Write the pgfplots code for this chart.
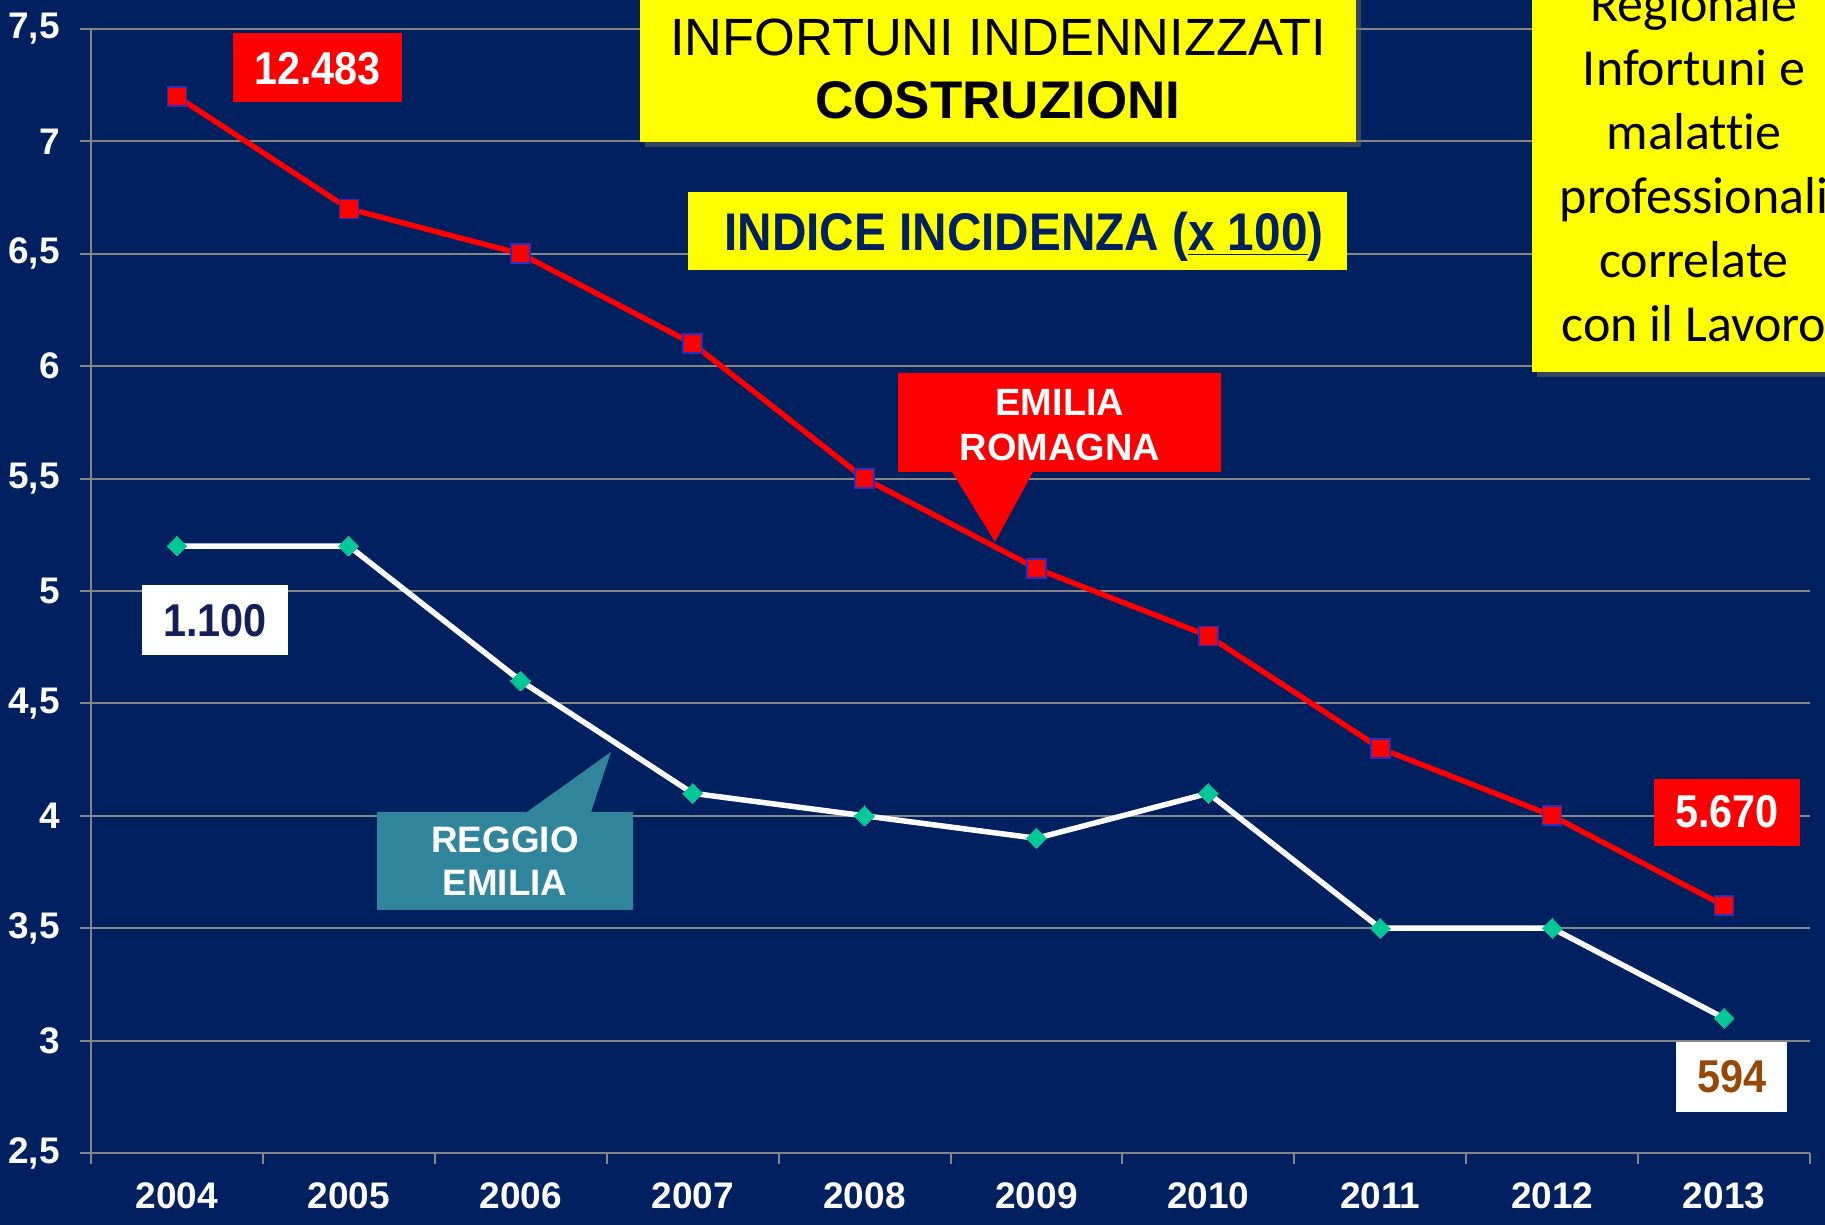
\documentclass[border=0pt]{standalone}
\usepackage{fontspec}
\setmainfont{Liberation Sans}
\newfontfamily\calibri[Ligatures=NoCommon]{Carlito}
\usepackage{graphicx}
\usepackage{pgfplots}
\usepackage{pgfplotstable}
\pgfplotsset{compat=1.18}
\definecolor{bg}{RGB}{0,32,96}
\definecolor{gridc}{RGB}{134,134,134}
\definecolor{mkedge}{RGB}{45,45,190}
\definecolor{dia}{RGB}{0,200,150}
\definecolor{teal2}{RGB}{49,133,155}
\definecolor{brown2}{RGB}{152,72,6}
\definecolor{navy2}{RGB}{20,30,90}
\definecolor{yel}{RGB}{255,255,0}
\definecolor{shad}{RGB}{110,110,80}
\newcommand{\nar}[1]{\scalebox{0.9}[1]{#1}}

\pgfplotstableread{
x er re
0 7.2 5.2
1 6.7 5.2
2 6.5 4.6
3 6.1 4.1
4 5.5 4.0
5 5.1 3.9
6 4.8 4.1
7 4.3 3.5
8 4.0 3.5
9 3.6 3.1
}\datatable

\begin{document}
\begin{tikzpicture}
\path[use as bounding box, clip] (0,0) rectangle (912.5pt,612.5pt);
\fill[bg] (0,0) rectangle (912.5pt,612.5pt);
\begin{axis}[
  at={(45.5pt,36pt)}, anchor=south west,
  scale only axis, width=859.5pt, height=562pt,
  xmin=-0.5, xmax=9.5, ymin=2.5, ymax=7.5,
  axis lines=left, axis line style={gridc, line width=1pt, -},
  xtick={-0.5,0.5,...,9.5},
  x tick label as interval,
  xticklabels={2004,2005,2006,2007,2008,2009,2010,2011,2012,2013},
  ytick={2.5,3,...,7.5},
  ymajorgrids, grid style={gridc, line width=1pt},
  tick align=outside, major tick length=5.5pt,
  tick style={gridc, line width=1pt},
  ticklabel style={font=\fontsize{18.5}{18.5}\selectfont\bfseries, text=white},
  yticklabel style={anchor=east, inner sep=0pt, xshift=-10pt,
    /pgf/number format/use comma, /pgf/number format/fixed,
    /pgf/number format/precision=1, /pgf/number format/assume math mode=true},
  xticklabel style={anchor=north, inner sep=0pt, yshift=-9.2pt},
]
\addplot[white, line width=2.75pt, mark=square*, mark size=3.5pt,
  mark options={fill=dia, draw=dia, rotate=45, line width=0pt}]
  table[x=x,y=re]{\datatable};
\addplot[red, line width=2.75pt, mark=square*, mark size=4.75pt,
  mark options={fill=red, draw=mkedge, line width=0.8pt}]
  table[x=x,y=er]{\datatable};
\end{axis}
\begin{scope}[x=0.5pt, y=-0.5pt, yshift=612.5pt]
  % title box
  \fill[shad, opacity=0.5] (645,-10) rectangle (1361,147);
  \fill[yel] (640,-10) rectangle (1356,142);
  \node[anchor=base, inner sep=0pt, font=\fontsize{26.2}{26}\selectfont] at (998,56) {INFORTUNI INDENNIZZATI};
  \node[anchor=base, inner sep=0pt, font=\fontsize{26.5}{26}\selectfont\bfseries] at (998,119) {COSTRUZIONI};
  % indice box
  \fill[yel] (688,192) rectangle (1347,270);
  \node[anchor=base, inner sep=0pt, text=bg, font=\fontsize{26.5}{26}\selectfont\bfseries] at (1024,251) {\nar{INDICE INCIDENZA (\underline{x 100})}};
  % right box
  \fill[shad, opacity=0.5] (1537,-10) rectangle (1865,377);
  \fill[yel] (1532,-10) rectangle (1860,372);
  \begin{scope}[every node/.style={anchor=base, inner sep=0pt, font=\calibri\fontsize{26}{26}\selectfont}]
    \node at (1694,22) {Regionale};
    \node at (1694,86) {Infortuni e};
    \node at (1694,150) {malattie};
    \node at (1694,214) {professionali};
    \node at (1694,278) {correlate};
    \node at (1694,342) {con il Lavoro};
  \end{scope}
  % value labels
  \fill[red] (233,33) rectangle (402,102);
  \node[anchor=base, inner sep=0pt, text=white, font=\fontsize{23}{23}\selectfont\bfseries] at (317.5,85) {\nar{12.483}};
  \fill[white] (142,585) rectangle (288,655);
  \node[anchor=base, inner sep=0pt, text=navy2, font=\fontsize{23}{23}\selectfont\bfseries] at (215,637) {\nar{1.100}};
  \fill[red] (1654,779) rectangle (1800,846);
  \node[anchor=base, inner sep=0pt, text=white, font=\fontsize{23}{23}\selectfont\bfseries] at (1727,828) {\nar{5.670}};
  \fill[white] (1676,1042) rectangle (1787,1112);
  \node[anchor=base, inner sep=0pt, text=brown2, font=\fontsize{23}{23}\selectfont\bfseries] at (1732,1093) {\nar{594}};
  % Emilia Romagna callout
  \fill[red] (898,373) -- (1221,373) -- (1221,472) -- (1033,472) -- (995,542) -- (952,472) -- (898,472) -- cycle;
  \node[anchor=base, inner sep=0pt, text=white, font=\fontsize{19}{19}\selectfont\bfseries] at (1060,415.6) {EMILIA};
  \node[anchor=base, inner sep=0pt, text=white, font=\fontsize{19}{19}\selectfont\bfseries] at (1060,460.6) {ROMAGNA};
  % Reggio Emilia callout
  \fill[teal2] (377,812) -- (527,812) -- (611,752) -- (591,812) -- (633,812) -- (633,910) -- (377,910) -- cycle;
  \node[anchor=base, inner sep=0pt, text=white, font=\fontsize{18.4}{18.4}\selectfont\bfseries] at (505,853) {REGGIO};
  \node[anchor=base, inner sep=0pt, text=white, font=\fontsize{18.4}{18.4}\selectfont\bfseries] at (505,896) {EMILIA};
\end{scope}
\end{tikzpicture}
\end{document}
